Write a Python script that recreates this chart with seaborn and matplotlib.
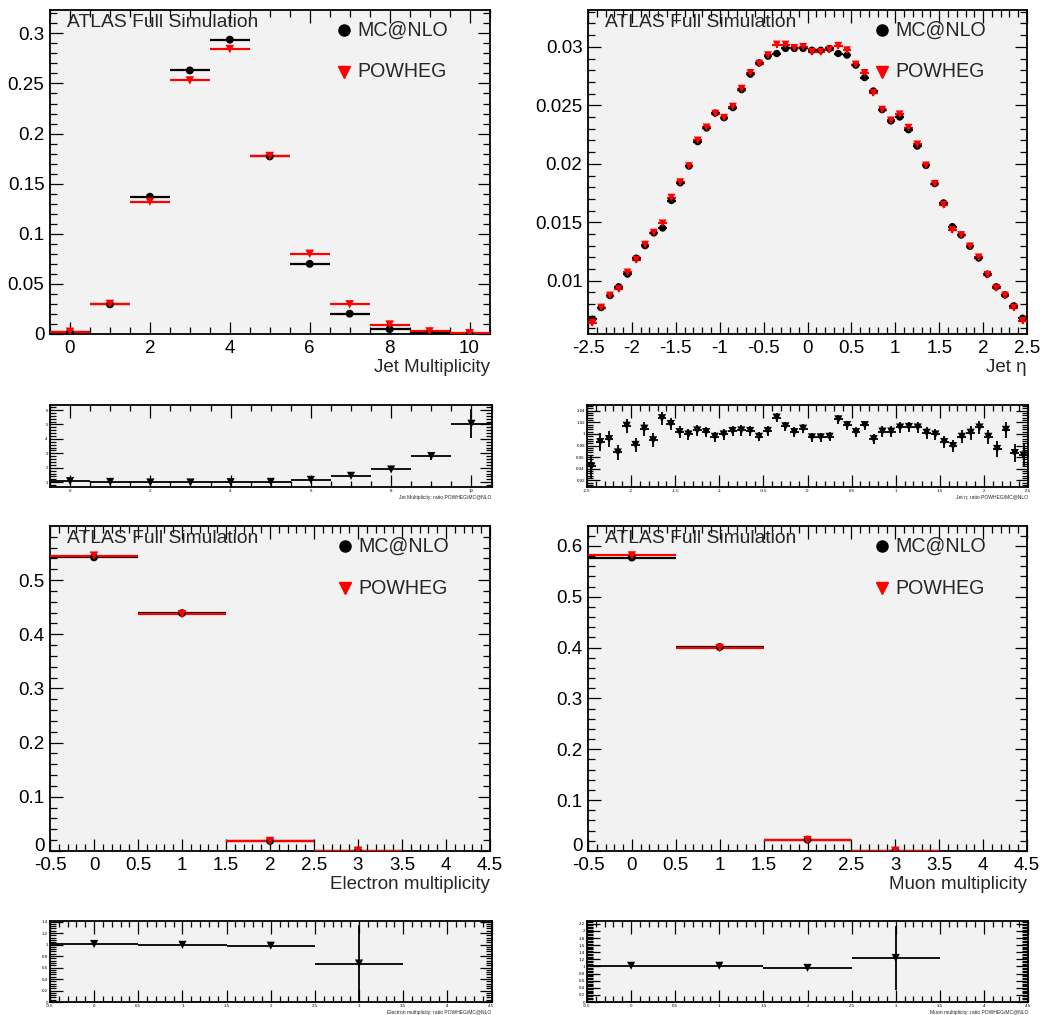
import numpy as np
import pandas as pd
import matplotlib
matplotlib.use("Agg")
import matplotlib.pyplot as plt
import matplotlib.transforms as mtransforms
import seaborn as sns
from matplotlib.ticker import MultipleLocator, FormatStrFormatter

sns.set_style("ticks")
plt.rcParams["font.family"] = ["Liberation Sans", "DejaVu Sans"]

# ---------------- data ----------------
jet_mult_bins = [0, 1, 2, 3, 4, 5, 6, 7, 8, 9, 10]
jet_mult_mcatnlo = [0.0018, 0.0296, 0.137, 0.263, 0.2937, 0.1772, 0.070, 0.0203, 0.0048, 0.0009, 0.00015]
jet_mult_powheg = [0.0022, 0.0300, 0.132, 0.253, 0.2843, 0.1776, 0.080, 0.0296, 0.0094, 0.0025, 0.00075]
jet_mult_ratio = [1.07, 1.02, 0.98, 0.98, 1.00, 1.02, 1.16, 1.44, 1.88, 2.81, 5.05]
jet_mult_ratio_err = [0.05, 0.03, 0.02, 0.02, 0.02, 0.02, 0.03, 0.05, 0.08, 0.27, 1.0]

jet_eta_centers = np.round(np.arange(-2.45, 2.5, 0.1), 2)
jet_eta_mcatnlo = [0.00671, 0.00771, 0.00874, 0.00949, 0.01057, 0.01194, 0.01300, 0.01409, 0.01451, 0.01686,
                   0.01837, 0.01980, 0.02189, 0.02306, 0.02434, 0.02394, 0.02480, 0.02634, 0.02766, 0.02863,
                   0.02920, 0.02943, 0.02986, 0.02986, 0.02986, 0.02971, 0.02971, 0.02986, 0.02943, 0.02929,
                   0.02843, 0.02737, 0.02623, 0.02463, 0.02366, 0.02400, 0.02291, 0.02151, 0.01986, 0.01831,
                   0.01666, 0.01463, 0.01391, 0.01294, 0.01194, 0.01057, 0.00949, 0.00880, 0.00786, 0.00680]
jet_eta_powheg = [0.00643, 0.00771, 0.00874, 0.00929, 0.01071, 0.01180, 0.01309, 0.01412, 0.01491, 0.01711,
                  0.01843, 0.01980, 0.02200, 0.02311, 0.02429, 0.02394, 0.02489, 0.02643, 0.02777, 0.02857,
                  0.02929, 0.03020, 0.03020, 0.02991, 0.03000, 0.02957, 0.02957, 0.02977, 0.03009, 0.02971,
                  0.02849, 0.02777, 0.02606, 0.02463, 0.02371, 0.02423, 0.02309, 0.02166, 0.01986, 0.01829,
                  0.01649, 0.01434, 0.01391, 0.01294, 0.01200, 0.01051, 0.00937, 0.00874, 0.00771, 0.00657]
jet_eta_ratio = [0.944, 0.986, 0.991, 0.968, 1.014, 0.981, 1.009, 0.989, 1.027, 1.017,
                 1.003, 0.999, 1.006, 1.003, 0.995, 0.999, 1.005, 1.006, 1.005, 0.995,
                 1.005, 1.028, 1.013, 1.003, 1.009, 0.994, 0.994, 0.995, 1.025, 1.015,
                 1.003, 1.015, 0.991, 1.004, 1.004, 1.011, 1.012, 1.011, 1.002, 0.999,
                 0.986, 0.979, 0.995, 1.002, 1.011, 0.995, 0.974, 1.007, 0.967, 0.963]
jet_eta_ratio_err = [0.020, 0.016, 0.014, 0.013, 0.012, 0.012, 0.012, 0.012, 0.011, 0.010,
                     0.010, 0.010, 0.009, 0.009, 0.009, 0.009, 0.009, 0.009, 0.008, 0.008,
                     0.008, 0.008, 0.008, 0.008, 0.008, 0.008, 0.008, 0.008, 0.008, 0.008,
                     0.008, 0.008, 0.008, 0.009, 0.009, 0.009, 0.009, 0.009, 0.010, 0.010,
                     0.010, 0.010, 0.011, 0.012, 0.012, 0.012, 0.013, 0.014, 0.016, 0.020]
jet_eta_err_mcatnlo = 0.00010
jet_eta_err_powheg = 0.00028

lep_bins = [0, 1, 2, 3]
el_mult_mcatnlo = [0.542, 0.439, 0.0185, 0.0006]
el_mult_powheg = [0.545, 0.437, 0.0185, 0.0004]
el_mult_ratio = [1.01, 0.995, 0.98, 0.67]
el_mult_ratio_err = [0.01, 0.01, 0.03, 0.67]

mu_mult_mcatnlo = [0.577, 0.401, 0.0223, 0.0003]
mu_mult_powheg = [0.581, 0.399, 0.0213, 0.0004]
mu_mult_ratio = [1.02, 1.02, 0.96, 1.24]
mu_mult_ratio_err = [0.01, 0.01, 0.04, 0.90]

BG = "#f2f2f2"
RED = "#ff0000"

W, H = 1045, 1015
fig = plt.figure(figsize=(W / 100, H / 100), dpi=100)
fig.patch.set_facecolor("white")


def px_axes(x0, y0, x1, y1):
    return fig.add_axes([x0 / W, 1 - y1 / H, (x1 - x0) / W, (y1 - y0) / H])


def style_axes(ax, major_len, minor_len, lab_size, pad):
    ax.set_facecolor(BG)
    for s in ax.spines.values():
        s.set_linewidth(1.3)
        s.set_color("black")
        s.set_visible(True)
    ax.tick_params(which="both", direction="in", top=True, right=True,
                   width=0.9, colors="black", labelsize=lab_size, pad=pad)
    ax.tick_params(which="major", length=major_len)
    ax.tick_params(which="minor", length=minor_len)
    ax.grid(False)


def main_panel(ax, x, mc, pw, xw, xlim, ylim, xmaj, xmin, ymaj, ymin, xlabel,
               yerr_mc=None, yerr_pw=None, ms=5.0):
    style_axes(ax, 9, 5, 13.5, 4)
    ax.errorbar(x, mc, xerr=xw, yerr=yerr_mc, fmt="none", ecolor="black",
                elinewidth=1.6, capsize=0, zorder=2)
    ax.errorbar(x, pw, xerr=xw, yerr=yerr_pw, fmt="none", ecolor=RED,
                elinewidth=1.6, capsize=0, zorder=3)
    df = pd.DataFrame({"x": x, "mc": mc, "pw": pw})
    sns.scatterplot(data=df, x="x", y="mc", ax=ax, color="black", marker="o",
                    s=ms ** 2 * 1.3, edgecolor="none", zorder=4, legend=False)
    sns.scatterplot(data=df, x="x", y="pw", ax=ax, color=RED, marker="v",
                    s=ms ** 2 * 1.5, edgecolor="none", zorder=5, legend=False)
    ax.set_xlim(*xlim)
    ax.set_ylim(*ylim)
    ax.xaxis.set_major_locator(MultipleLocator(xmaj))
    ax.xaxis.set_minor_locator(MultipleLocator(xmin))
    ax.yaxis.set_major_locator(MultipleLocator(ymaj))
    ax.yaxis.set_minor_locator(MultipleLocator(ymin))
    ax.xaxis.set_major_formatter(FormatStrFormatter("%g"))
    ax.yaxis.set_major_formatter(FormatStrFormatter("%g"))
    ax.set_xlabel("")
    ax.set_ylabel("")
    ax.text(1.0, -0.102, xlabel, transform=ax.transAxes, ha="right", va="center",
            fontsize=13.5)
    ax.text(0.038, 0.962, "ATLAS Full Simulation", transform=ax.transAxes,
            ha="left", va="center", fontsize=13.9)
    ax.plot([0.67], [0.937], transform=ax.transAxes, marker="o", color="black",
            ms=8, ls="none", clip_on=False)
    ax.plot([0.67], [0.809], transform=ax.transAxes, marker="v", color=RED,
            ms=8.5, ls="none", clip_on=False)
    ax.text(0.70, 0.937, "MC@NLO", transform=ax.transAxes, ha="left",
            va="center", fontsize=14.1)
    ax.text(0.70, 0.809, "POWHEG", transform=ax.transAxes, ha="left",
            va="center", fontsize=14.1)


def nudge_zero_label(ax):
    # lift the y "0" label slightly so it does not collide with the "-0.5" x label
    fig.canvas.draw()
    for lab, val in zip(ax.yaxis.get_majorticklabels(), ax.get_yticks()):
        if abs(val) < 1e-12:
            lab.set_transform(lab.get_transform() +
                              mtransforms.ScaledTranslation(0, 5 / 72, fig.dpi_scale_trans))


def ratio_panel(ax, x, r, rerr, xw, xlim, ylim, xmaj, xmin, ymaj, ymin, label):
    style_axes(ax, 9, 4.5, 3.2, 1.5)
    ax.errorbar(x, r, xerr=xw, yerr=rerr, fmt="none", ecolor="black",
                elinewidth=1.3, capsize=0, zorder=2)
    df = pd.DataFrame({"x": x, "r": r})
    sns.scatterplot(data=df, x="x", y="r", ax=ax, color="black", marker="v",
                    s=34, edgecolor="none", zorder=3, legend=False)
    ax.set_xlim(*xlim)
    ax.set_ylim(*ylim)
    ax.xaxis.set_major_locator(MultipleLocator(xmaj))
    ax.xaxis.set_minor_locator(MultipleLocator(xmin))
    ax.yaxis.set_major_locator(MultipleLocator(ymaj))
    ax.yaxis.set_minor_locator(MultipleLocator(ymin))
    ax.xaxis.set_major_formatter(FormatStrFormatter("%g"))
    ax.yaxis.set_major_formatter(FormatStrFormatter("%g"))
    ax.set_xlabel("")
    ax.set_ylabel("")
    ax.text(1.0, -0.10, label, transform=ax.transAxes, ha="right", va="top",
            fontsize=3.6)


# top-left
ax1 = px_axes(50, 10, 489.5, 334)
main_panel(ax1, jet_mult_bins, jet_mult_mcatnlo, jet_mult_powheg, 0.5,
           (-0.5, 10.5), (0, 0.3233), 2, 0.5, 0.05, 0.01, "Jet Multiplicity")

# top-right
ax2 = px_axes(588, 10, 1027, 334)
main_panel(ax2, jet_eta_centers, jet_eta_mcatnlo, jet_eta_powheg, 0.05,
           (-2.5, 2.5), (0.00545, 0.03315), 0.5, 0.1, 0.005, 0.001, "Jet η",
           yerr_mc=jet_eta_err_mcatnlo, yerr_pw=jet_eta_err_powheg, ms=4.6)

# bottom-left
ax3 = px_axes(50, 526, 490, 851)
main_panel(ax3, lep_bins, el_mult_mcatnlo, el_mult_powheg, 0.5,
           (-0.5, 4.5), (0, 0.5998), 0.5, 0.1, 0.1, 0.02, "Electron multiplicity")

# bottom-right
ax4 = px_axes(588, 526, 1027, 851)
main_panel(ax4, lep_bins, mu_mult_mcatnlo, mu_mult_powheg, 0.5,
           (-0.5, 4.5), (0, 0.639), 0.5, 0.1, 0.1, 0.02, "Muon multiplicity")

# ratio panels
r1 = px_axes(50, 405, 491.5, 486.5)
ratio_panel(r1, jet_mult_bins, jet_mult_ratio, jet_mult_ratio_err, 0.5,
            (-0.5, 10.5), (0.7, 6.35), 2, 0.5, 1, 0.2,
            "Jet Multiplicity: ratio POWHEG/MC@NLO")

r2 = px_axes(587, 405, 1028, 487)
ratio_panel(r2, jet_eta_centers, jet_eta_ratio, jet_eta_ratio_err, 0.05,
            (-2.5, 2.5), (0.9086, 1.0497), 0.5, 0.1, 0.02, 0.004,
            "Jet η: ratio POWHEG/MC@NLO")

r3 = px_axes(50, 921, 491.5, 1002)
ratio_panel(r3, lep_bins, el_mult_ratio, el_mult_ratio_err, 0.5,
            (-0.5, 4.5), (0, 1.41), 0.5, 0.1, 0.2, 0.04,
            "Electron multiplicity: ratio POWHEG/MC@NLO")

r4 = px_axes(587, 921, 1028, 1002)
ratio_panel(r4, lep_bins, mu_mult_ratio, mu_mult_ratio_err, 0.5,
            (-0.5, 4.5), (0, 2.28), 0.5, 0.1, 0.2, 0.04,
            "Muon multiplicity: ratio POWHEG/MC@NLO")

nudge_zero_label(ax3)
nudge_zero_label(ax4)

fig.savefig("out.png", dpi=100, facecolor="white")
